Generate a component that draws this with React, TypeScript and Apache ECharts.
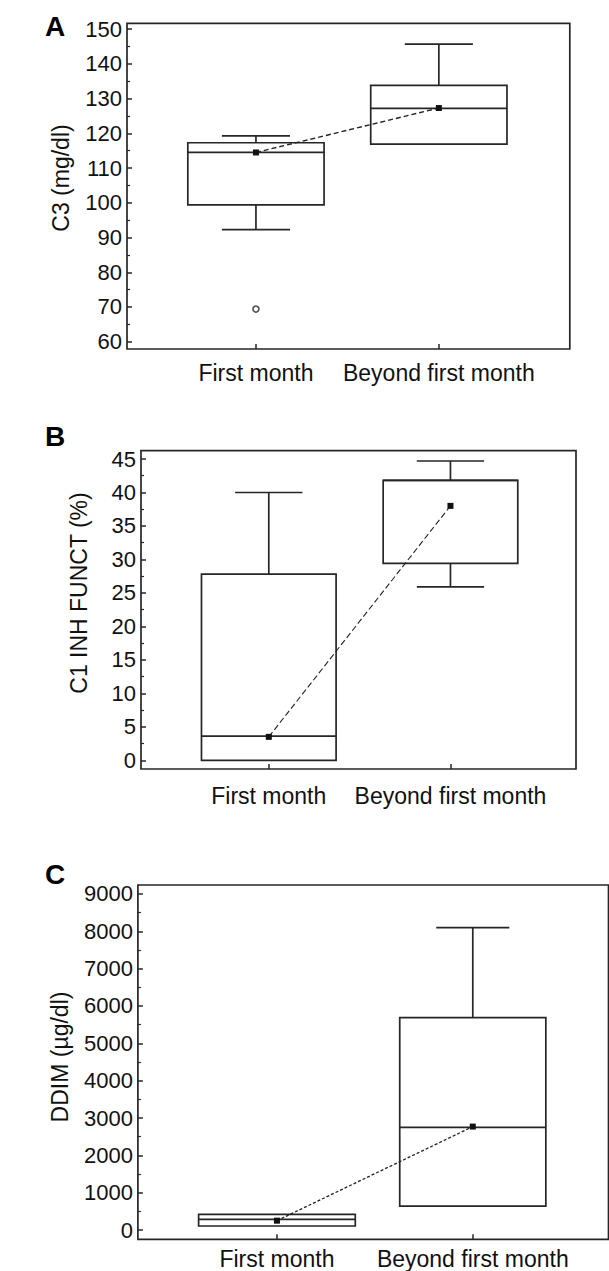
import React, { useEffect, useRef } from "react";
import * as echarts from "echarts";

// ---------- data ----------
const categories = ["First month", "Beyond first month"];

// box stats per group: [lower whisker, Q1, median, Q3, upper whisker]
const c3Boxes = [
  [92.3, 99.4, 114.5, 117.3, 119.3],
  [116.9, 116.9, 127.2, 133.8, 145.7],
];
const c3Means = [114.5, 127.3];
const c3Outliers = [[1, 69.4]];
const c3Ticks = [60, 70, 80, 90, 100, 110, 120, 130, 140, 150];

const c1Boxes = [
  [0, 0, 3.6, 27.8, 40],
  [25.9, 29.4, 41.8, 41.8, 44.7],
];
const c1Means = [3.5, 38.0];
const c1Outliers: number[][] = [];
const c1Ticks = [0, 5, 10, 15, 20, 25, 30, 35, 40, 45];

const ddimBoxes = [
  [107, 107, 287, 420, 420],
  [640, 640, 2750, 5690, 8100],
];
const ddimMeans = [250, 2770];
const ddimOutliers: number[][] = [];
const ddimTicks = [0, 1000, 2000, 3000, 4000, 5000, 6000, 7000, 8000, 9000];

// ---------- layout / style ----------
const FONT = "'Liberation Sans', Arial, Helvetica, sans-serif";
const INK = "#111";
const LINE = "#262626";

const panels = [
  {
    letter: "A",
    title: "C3 (mg/dl)",
    boxes: c3Boxes,
    means: c3Means,
    outliers: c3Outliers,
    ticks: c3Ticks,
    yMin: 57.9,
    yMax: 151.7,
    xMin: 0.295,
    xMax: 2.716,
    grid: { left: 127, top: 23.3, width: 442.8, height: 325.7 },
    boxWidths: [0.745, 0.745],
    labelMargin: 12,
    letterPos: [45, 26],
    titlePos: [61, 178],
    dash: [5, 3],
    meanWidth: 1.4,
  },
  {
    letter: "B",
    title: "C1 INH FUNCT (%)",
    boxes: c1Boxes,
    means: c1Means,
    outliers: c1Outliers,
    ticks: c1Ticks,
    yMin: -1.3,
    yMax: 46.24,
    xMin: 0.2966,
    xMax: 2.691,
    grid: { left: 141, top: 450.7, width: 435, height: 318.3 },
    boxWidths: [0.741, 0.741],
    labelMargin: 15,
    letterPos: [45, 436],
    titlePos: [79, 593],
    dash: [6, 3],
    meanWidth: 1.1,
  },
  {
    letter: "C",
    title: "DDIM (µg/dl)",
    boxes: ddimBoxes,
    means: ddimMeans,
    outliers: ddimOutliers,
    ticks: ddimTicks,
    yMin: -249,
    yMax: 9241,
    xMin: 0.29,
    xMax: 2.693,
    grid: { left: 137.9, top: 885, width: 470.6, height: 354.3 },
    boxWidths: [0.8, 0.746],
    labelMargin: 8,
    letterPos: [45, 874],
    titlePos: [60, 1057],
    dash: [3, 2],
    meanWidth: 1.3,
  },
];

function minorsOf(ticks: number[]) {
  const out: number[] = [];
  for (let i = 0; i < ticks.length - 1; i++) out.push((ticks[i] + ticks[i + 1]) / 2);
  return out;
}

function buildOption() {
  const grid: any[] = [];
  const xAxis: any[] = [];
  const yAxis: any[] = [];
  const series: any[] = [];
  const graphic: any[] = [];

  panels.forEach((p, i) => {
    grid.push({
      ...p.grid,
      show: true,
      borderColor: LINE,
      borderWidth: 1.7,
      backgroundColor: "transparent",
      containLabel: false,
    });
    xAxis.push({
      type: "value",
      gridIndex: i,
      position: "bottom",
      min: p.xMin,
      max: p.xMax,
      axisLine: { show: false, onZero: false },
      splitLine: { show: false },
      axisTick: {
        show: true,
        inside: true,
        length: 5,
        customValues: [1, 2],
        lineStyle: { color: LINE, width: 1.5 },
      },
      axisLabel: {
        customValues: [1, 2],
        formatter: (v: number) => categories[Math.round(v) - 1] ?? "",
        margin: p.labelMargin,
        fontSize: 23,
        color: INK,
        fontFamily: FONT,
      },
    });
    // major ticks + labels
    yAxis.push({
      type: "value",
      gridIndex: i,
      position: "left",
      min: p.yMin,
      max: p.yMax,
      axisLine: { show: false, onZero: false },
      splitLine: { show: false },
      axisTick: {
        show: true,
        inside: true,
        length: 5,
        customValues: p.ticks,
        lineStyle: { color: LINE, width: 1.5 },
      },
      axisLabel: {
        customValues: p.ticks,
        formatter: (v: number) => String(Math.round(v)),
        margin: 5,
        fontSize: 22,
        color: INK,
        fontFamily: FONT,
      },
    });
    // minor ticks
    yAxis.push({
      type: "value",
      gridIndex: i,
      position: "left",
      offset: 0,
      min: p.yMin,
      max: p.yMax,
      axisLine: { show: false, onZero: false },
      splitLine: { show: false },
      axisLabel: { show: false, customValues: minorsOf(p.ticks) },
      axisTick: {
        show: true,
        inside: true,
        length: 3,
        customValues: minorsOf(p.ticks),
        lineStyle: { color: LINE, width: 1.2 },
      },
    });

    const yMajor = i * 2;
    const boxData = p.boxes.map((b, k) => [k + 1, ...b]);
    const widths = p.boxWidths;

    series.push({
      type: "custom",
      xAxisIndex: i,
      yAxisIndex: yMajor,
      data: boxData,
      encode: { x: 0, y: [1, 2, 3, 4, 5] },
      z: 2,
      renderItem: (params: any, api: any) => {
        const x = api.value(0);
        const lo = api.value(1);
        const q1 = api.value(2);
        const med = api.value(3);
        const q3 = api.value(4);
        const hi = api.value(5);
        const half = api.size([widths[params.dataIndex], 0])[0] / 2;
        const cap = half / 2;
        const [cx, yq3] = api.coord([x, q3]);
        const yq1 = api.coord([x, q1])[1];
        const ymed = api.coord([x, med])[1];
        const ylo = api.coord([x, lo])[1];
        const yhi = api.coord([x, hi])[1];
        const st = { stroke: LINE, lineWidth: 1.7, fill: "none" };
        const children: any[] = [
          {
            type: "rect",
            shape: { x: cx - half, y: yq3, width: half * 2, height: yq1 - yq3 },
            style: st,
          },
          {
            type: "line",
            shape: { x1: cx - half, y1: ymed, x2: cx + half, y2: ymed },
            style: st,
          },
        ];
        if (hi > q3) {
          children.push(
            { type: "line", shape: { x1: cx, y1: yq3, x2: cx, y2: yhi }, style: st },
            { type: "line", shape: { x1: cx - cap, y1: yhi, x2: cx + cap, y2: yhi }, style: st }
          );
        }
        if (lo < q1) {
          children.push(
            { type: "line", shape: { x1: cx, y1: yq1, x2: cx, y2: ylo }, style: st },
            { type: "line", shape: { x1: cx - cap, y1: ylo, x2: cx + cap, y2: ylo }, style: st }
          );
        }
        return { type: "group", children };
      },
    });

    series.push({
      type: "line",
      xAxisIndex: i,
      yAxisIndex: yMajor,
      data: p.means.map((m, k) => [k + 1, m]),
      symbol: "rect",
      symbolSize: 6,
      z: 5,
      lineStyle: { color: "#222", width: p.meanWidth, type: p.dash },
      itemStyle: { color: "#111" },
    });

    if (p.outliers.length) {
      series.push({
        type: "scatter",
        xAxisIndex: i,
        yAxisIndex: yMajor,
        data: p.outliers,
        symbol: "circle",
        symbolSize: 6,
        z: 5,
        itemStyle: { color: "#fff", borderColor: "#222", borderWidth: 1.6 },
      });
    }

    graphic.push({
      type: "text",
      left: p.letterPos[0],
      top: p.letterPos[1] - 14,
      style: {
        text: p.letter,
        fontSize: 28,
        fontWeight: "bold",
        fontFamily: FONT,
        fill: "#000",
      },
    });
    graphic.push({
      type: "text",
      x: p.titlePos[0],
      y: p.titlePos[1],
      rotation: Math.PI / 2,
      style: {
        text: p.title,
        fontSize: 23,
        fontFamily: FONT,
        fill: INK,
        textAlign: "center",
        textVerticalAlign: "middle",
      },
    });
  });

  return {
    animation: false,
    backgroundColor: "#fff",
    grid,
    xAxis,
    yAxis,
    series,
    graphic,
  };
}

export default function App() {
  const ref = useRef<HTMLDivElement>(null);
  useEffect(() => {
    if (!ref.current) return;
    const chart = echarts.init(ref.current, undefined, { renderer: "svg" });
    chart.setOption(buildOption() as any);
    return () => chart.dispose();
  }, []);
  return (
    <div
      ref={ref}
      style={{ position: "absolute", left: 0, top: 0, width: 609, height: 1271, background: "#fff" }}
    />
  );
}
